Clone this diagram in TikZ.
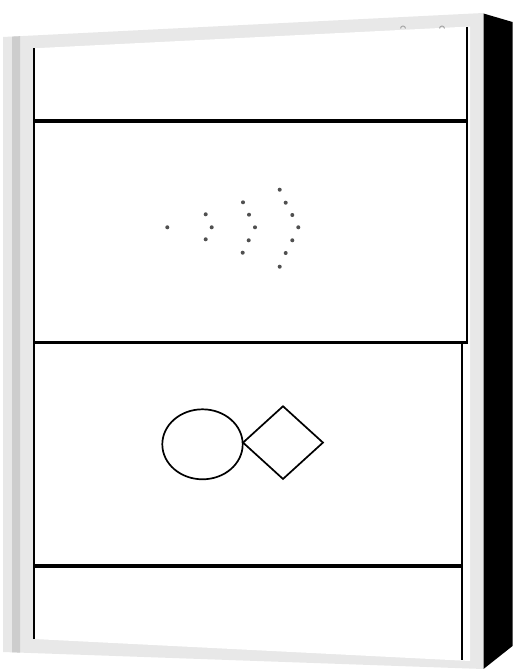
\documentclass[tikz,border=0pt]{standalone}
\usetikzlibrary{shapes.geometric}
\definecolor{framegrey}{HTML}{E8E8E8}
\definecolor{stripgrey}{HTML}{CDCDCD}
\definecolor{dotgrey}{HTML}{505050}
\begin{document}
\begin{tikzpicture}[x=1pt,y=-1pt,
  divider/.style={line width=3.4pt,black},
  border/.style={line width=2pt,black},
  shapeline/.style={draw=black,line width=1.7pt,inner sep=0pt},
  dot/.style={fill=dotgrey}]
\useasboundingbox (0,0) rectangle (513,669);
\fill[white] (0,0) rectangle (513,669);
% frame of the canvas
\fill[framegrey] (3,37) -- (483.5,13) -- (483.5,669) -- (3,652) -- cycle;
\fill[stripgrey] (12,36.6) -- (20,36.2) -- (20,652.6) -- (12,652.3) -- cycle;
% black side
\fill[black] (483.5,13.5) -- (512.5,22) -- (512.5,646) -- (483.5,669) -- cycle;
% white print area
\fill[white] (34,48.3) -- (470,26.5) -- (470,661) -- (34,639) -- cycle;
% borders
\draw[border] (34,48.3) -- (34,639);
\draw[border] (467,27) -- (467,342.5);
\draw[border] (462,342.5) -- (462,660);
% dividers
\draw[divider] (34,121) -- (468,121);
\draw[divider] (34,342.5) -- (468,342.5);
\draw[divider] (34,566) -- (463,566);
% tiny marks at top
\draw[gray!70,line width=1pt] (400.5,28.5) arc[start angle=180,end angle=360,radius=2.5];
\draw[gray!70,line width=1pt] (439.5,28.5) arc[start angle=180,end angle=360,radius=2.5];
% dots
\foreach \p in {(167.3,227.3),(205.7,214.3),(211.7,227.3),(205.7,239.3),
  (243,202.3),(249,214.7),(255,227.3),(248.7,240.3),(242.7,252.7),
  (279.7,189.7),(285.7,202.7),(292.3,215),(298.3,227.3),(292.3,240.3),(285.7,253),(279.7,266.7)}
  \fill[dot] \p circle[radius=2];
% circle and diamond
\node[shapeline,ellipse,minimum width=80.4pt,minimum height=70pt] (circ) at (202.5,444.3) {};
\node[shapeline,diamond,minimum width=80.6pt,minimum height=73.4pt] (diam) at (283,442.6) {};
\end{tikzpicture}
\end{document}
